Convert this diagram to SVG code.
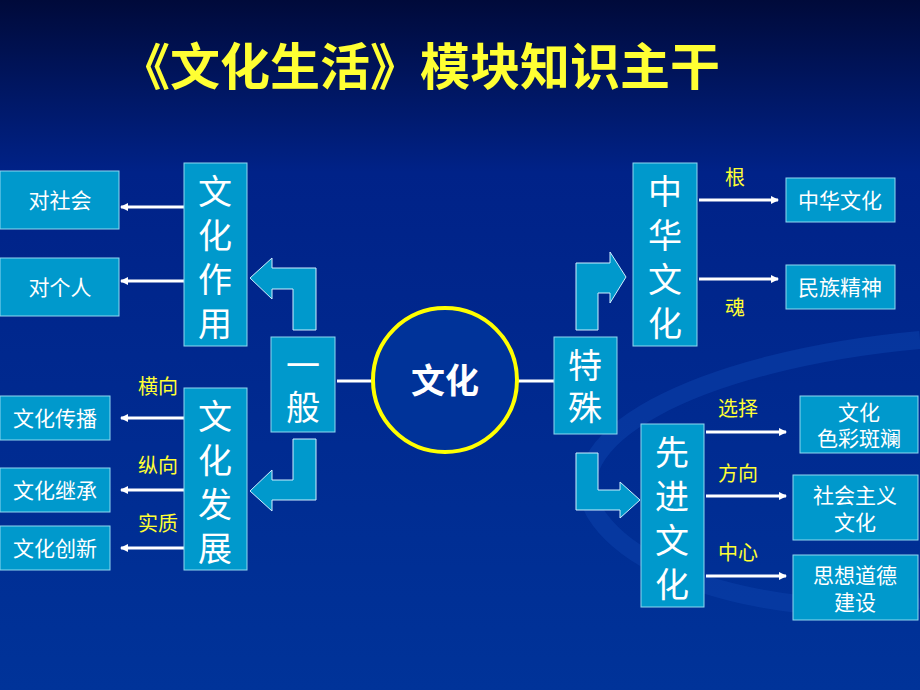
<svg xmlns="http://www.w3.org/2000/svg" width="920" height="690" viewBox="0 0 920 690">
<defs>
<linearGradient id="bg" x1="0" y1="0" x2="0" y2="1"><stop offset="0" stop-color="#000a3a"/><stop offset="0.25" stop-color="#002288"/><stop offset="1" stop-color="#003399"/></linearGradient>
<marker id="ah" markerWidth="8" markerHeight="8" refX="7" refY="4" orient="auto" markerUnits="userSpaceOnUse"><path d="M0,0 L8,4 L0,8 Z" fill="#fff"/></marker>
<style>
text{font-family:"Liberation Sans","Noto Sans CJK SC",sans-serif;}
.b{fill:#0099cc;stroke:#8fd8f0;stroke-width:1}
.t{fill:#fff;font-size:21px;text-anchor:middle}
.v{fill:#fff;font-size:34px;text-anchor:middle}
.y{fill:#ffff33;font-size:20px;text-anchor:middle}
.c{stroke:#fff;stroke-width:3;fill:none}
.a{stroke:#fff;stroke-width:3;marker-end:url(#ah)}
.ba{fill:#0099cc;stroke:#cfefff;stroke-width:1}
</style>
</defs>
<rect width="920" height="690" fill="url(#bg)"/>
<path d="M920,340 C700,360 540,440 600,520 C660,600 850,620 920,600" fill="none" stroke="#0a3fa8" stroke-width="18" opacity="0.6"/>
<text x="420" y="85" font-size="50" fill="#ffff33" text-anchor="middle" font-weight="bold">《文化生活》模块知识主干</text>
<g id="connectors">
<line class="c" x1="337" y1="381" x2="373" y2="381"/>
<line class="c" x1="517" y1="381" x2="554" y2="381"/>
<line class="a" x1="184" y1="207" x2="121" y2="207"/>
<line class="a" x1="184" y1="281" x2="121" y2="281"/>
<line class="a" x1="184" y1="418" x2="121" y2="418"/>
<line class="a" x1="184" y1="490" x2="121" y2="490"/>
<line class="a" x1="184" y1="548" x2="121" y2="548"/>
<line class="a" x1="699" y1="200" x2="778" y2="200"/>
<line class="a" x1="699" y1="279" x2="778" y2="279"/>
<line class="a" x1="706" y1="432" x2="786" y2="432"/>
<line class="a" x1="706" y1="496" x2="786" y2="496"/>
<line class="a" x1="706" y1="576" x2="786" y2="576"/>
<path class="ba" d="M316,330 L316,268 L272,268 L272,258 L250,278 L272,299 L272,289 L293,289 L293,330 Z"/>
<path class="ba" d="M293,439 L316,439 L316,500 L272,500 L272,511 L250,491 L272,470 L272,480 L293,480 Z"/>
<path class="ba" d="M576,330 L576,263 L610,263 L610,252 L626,277 L610,303 L610,293 L598,293 L598,330 Z"/>
<path class="ba" d="M576,453 L598,453 L598,490 L620,490 L620,482 L640,500 L620,518 L620,510 L576,510 Z"/>
<text class="y" x="158" y="394">横向</text>
<text class="y" x="158" y="473">纵向</text>
<text class="y" x="158" y="531">实质</text>
<text class="y" x="735" y="185">根</text>
<text class="y" x="735" y="315">魂</text>
<text class="y" x="738" y="416">选择</text>
<text class="y" x="738" y="481">方向</text>
<text class="y" x="738" y="560">中心</text>
</g>
<g id="center"><circle cx="445" cy="380" r="72" fill="#003399" stroke="#ffff00" stroke-width="4"/><text x="445" y="393" font-size="34" fill="#fff" text-anchor="middle" font-weight="bold">文化</text></g>
<g id="yiban"><rect class="b" x="271" y="337" width="64" height="95"/><text class="v" x="303" y="378">一</text><text class="v" x="303" y="420">般</text></g>
<g id="teshu"><rect class="b" x="554" y="337" width="63" height="97"/><text class="v" x="585" y="378">特</text><text class="v" x="585" y="420">殊</text></g>
<g id="zuoyong"><rect class="b" x="184" y="163" width="63" height="183"/><text class="v" x="215" y="204">文</text><text class="v" x="215" y="248">化</text><text class="v" x="215" y="292">作</text><text class="v" x="215" y="336">用</text></g>
<g id="fazhan"><rect class="b" x="184" y="388" width="63" height="182"/><text class="v" x="215" y="429">文</text><text class="v" x="215" y="473">化</text><text class="v" x="215" y="517">发</text><text class="v" x="215" y="561">展</text></g>
<g id="zhonghua"><rect class="b" x="633" y="163" width="64" height="183"/><text class="v" x="665" y="204">中</text><text class="v" x="665" y="248">华</text><text class="v" x="665" y="292">文</text><text class="v" x="665" y="336">化</text></g>
<g id="xianjin"><rect class="b" x="641" y="424" width="63" height="183"/><text class="v" x="672" y="465">先</text><text class="v" x="672" y="509">进</text><text class="v" x="672" y="553">文</text><text class="v" x="672" y="597">化</text></g>
<g id="n1"><rect class="b" x="0" y="171" width="119" height="58"/><text class="t" x="60" y="208">对社会</text></g>
<g id="n2"><rect class="b" x="0" y="258" width="119" height="58"/><text class="t" x="60" y="295">对个人</text></g>
<g id="n3"><rect class="b" x="0" y="396" width="110" height="44"/><text class="t" x="55" y="426">文化传播</text></g>
<g id="n4"><rect class="b" x="0" y="468" width="110" height="44"/><text class="t" x="55" y="498">文化继承</text></g>
<g id="n5"><rect class="b" x="0" y="526" width="110" height="44"/><text class="t" x="55" y="556">文化创新</text></g>
<g id="n6"><rect class="b" x="786" y="178" width="109" height="44"/><text class="t" x="840" y="208">中华文化</text></g>
<g id="n7"><rect class="b" x="786" y="265" width="109" height="44"/><text class="t" x="840" y="295">民族精神</text></g>
<g id="n8"><rect class="b" x="800" y="396" width="118" height="57"/><text class="t" x="859" y="420">文化</text><text class="t" x="859" y="446">色彩斑斓</text></g>
<g id="n9"><rect class="b" x="793" y="475" width="125" height="65"/><text class="t" x="855" y="503">社会主义</text><text class="t" x="855" y="530">文化</text></g>
<g id="n10"><rect class="b" x="793" y="555" width="125" height="65"/><text class="t" x="855" y="583">思想道德</text><text class="t" x="855" y="610">建设</text></g>
</svg>
